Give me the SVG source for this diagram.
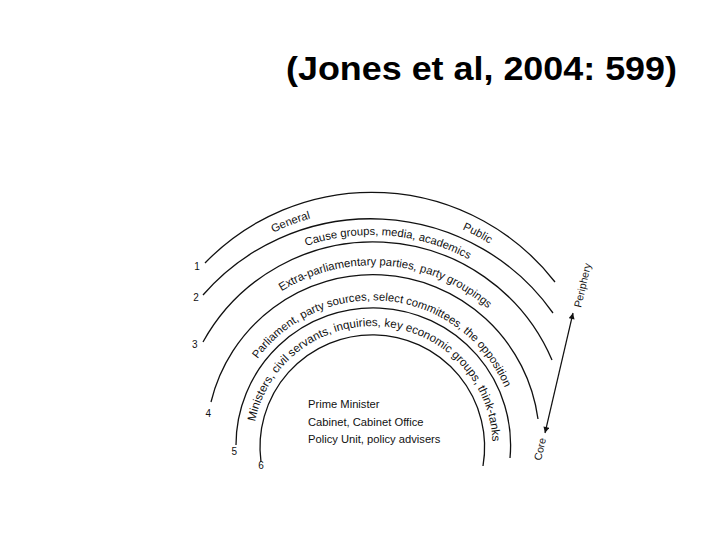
<svg xmlns="http://www.w3.org/2000/svg" width="720" height="540" viewBox="0 0 720 540">
<style>
.ring{fill:none;stroke:#111;stroke-width:1.3}
.lbl{font-family:"Liberation Sans",Arial,sans-serif;fill:#111}
.num{font-family:"Liberation Sans",Arial,sans-serif;font-size:10px;fill:#111;text-anchor:middle}
.title{font-family:"Liberation Sans",Arial,sans-serif;font-weight:bold;font-size:34px;fill:#000}
</style>
<defs>
<path id="b1" d="M151.9,471.7 A223,223 0 1 1 591.1,471.7"/>
<path id="b2" d="M171.1,474.4 A204,204 0 1 1 572.9,474.4"/>
<path id="b3" d="M201.6,469.2 A174,174 0 1 1 544.4,469.2"/>
<path id="b4" d="M232.2,468.3 A143,143 0 1 1 513.8,468.3"/>
<path id="b5" d="M254.3,466.8 A120,120 0 1 1 490.7,466.8"/>
<marker id="ah" viewBox="0 0 10 10" refX="10" refY="5" markerWidth="7" markerHeight="6" orient="auto-start-reverse" markerUnits="userSpaceOnUse">
<path d="M0,0 L10,5 L0,10 z" fill="#111"/>
</marker>
</defs>
<rect width="720" height="540" fill="#fff"/>
<g id="title"><text class="title" x="286" y="80" textLength="391" lengthAdjust="spacingAndGlyphs">(Jones et al, 2004: 599)</text></g>
<g id="rings">
<path class="ring" d="M205,263 A232,232 0 0 1 555,282"/>
<path class="ring" d="M203,295 A223,223 0 0 1 553,313"/>
<path class="ring" d="M203,342 A194.5,194.5 0 0 1 552,360"/>
<path class="ring" d="M211,402 A166.6,166.6 0 0 1 538,419"/>
<path class="ring" d="M236,445 A137.3,137.3 0 1 1 510,458"/>
<path class="ring" d="M261,462 A112.3,112.3 0 1 1 483,466"/>
</g>
<g id="ring-numbers">
<text class="num" x="197" y="269.5">1</text>
<text class="num" x="196" y="300.7">2</text>
<text class="num" x="194.7" y="347.7">3</text>
<text class="num" x="208.3" y="416.7">4</text>
<text class="num" x="234.3" y="455.3">5</text>
<text class="num" x="261" y="469.3">6</text>
</g>
<g id="band1"><text class="lbl" font-size="11.3" text-anchor="middle"><textPath href="#b1" startOffset="39.5%">General</textPath></text>
<text class="lbl" font-size="11.3" text-anchor="middle"><textPath href="#b1" startOffset="64%">Public</textPath></text></g>
<g id="band2"><text class="lbl" font-size="11.3" text-anchor="middle"><textPath href="#b2" startOffset="52.35%">Cause groups, media, academics</textPath></text></g>
<g id="band3"><text class="lbl" font-size="11.4" text-anchor="middle"><textPath href="#b3" startOffset="52.4%">Extra-parliamentary parties, party groupings</textPath></text></g>
<g id="band4"><text class="lbl" font-size="11.3" text-anchor="middle"><textPath href="#b4" startOffset="53.3%">Parliament, party sources, select committees, the opposition</textPath></text></g>
<g id="band5"><text class="lbl" font-size="11.6" text-anchor="middle"><textPath href="#b5" startOffset="52.4%">Ministers, civil servants, inquiries, key economic groups, think-tanks</textPath></text></g>
<g id="core-text" class="lbl" font-size="11.2">
<text x="308" y="408">Prime Minister</text>
<text x="308" y="426">Cabinet, Cabinet Office</text>
<text x="308" y="443">Policy Unit, policy advisers</text>
</g>
<g id="connectors">
<line x1="545" y1="433" x2="573" y2="313" stroke="#111" stroke-width="1.2" marker-start="url(#ah)" marker-end="url(#ah)"/>
</g>
<g id="axis-labels" class="lbl" font-size="10.5">
<text transform="translate(581,308) rotate(-77)">Periphery</text>
<text transform="translate(541,461) rotate(-77)">Core</text>
</g>
</svg>
